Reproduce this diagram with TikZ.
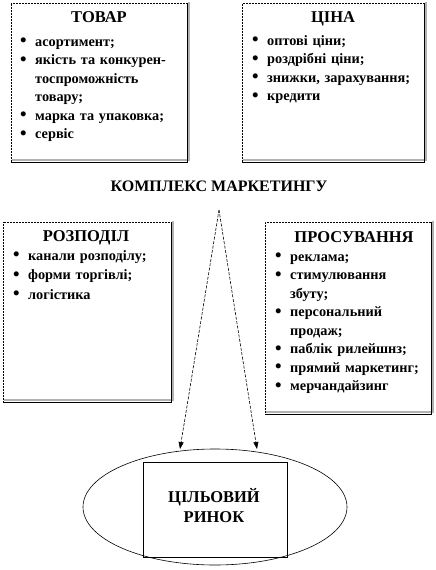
\documentclass[tikz,border=0pt]{standalone}
\usepackage{fontspec}
\usepackage{graphicx}
\setmainfont{Liberation Serif}
\usetikzlibrary{arrows.meta,shapes.geometric}
\newcommand{\itm}[1]{\hangindent=15pt\hangafter=1\noindent\makebox[15pt][l]{\raisebox{-0.6pt}{\scalebox{1.3}{\textbullet}}}#1\par}
\tikzset{
  boxst/.style={draw=black,densely dotted,line width=0.5pt,fill=white,inner sep=0pt,outer sep=0pt,anchor=north west},
  shadowst/.style={draw=gray!60,line width=1.2pt},
  solidedge/.style={draw=black,line width=1pt},
  titlest/.style={font=\fontsize{16.5}{18}\selectfont\bfseries,anchor=base,inner sep=0pt},
  listst/.style={font=\fontsize{14.3}{18.5}\selectfont\bfseries,anchor=base west,inner sep=0pt,text width=170pt,align=left},
  arrowst/.style={draw=black,line width=0.6pt,dash pattern=on 3pt off 1.5pt,-{Triangle[width=5pt,length=7pt]}},
}
\begin{document}
\begin{tikzpicture}[x=1pt,y=-1pt]
\useasboundingbox (0,0) rectangle (436,570);
% --- ТОВАР
\node[boxst,minimum width=176pt,minimum height=159pt] (tovar) at (11,3) {};
\draw[shadowst] ([shift={(2,-1)}]tovar.north east) -- ([shift={(2,-2)}]tovar.south east) -- ([shift={(1,-2)}]tovar.south west);
\draw[solidedge] (tovar.north east) -- (tovar.south east) -- (tovar.south west);
\node[titlest] (tovart) at (99,23) {ТОВАР};
\node[listst] (tovarl) at (20,46) {\itm{асортимент;}\itm{якість та конкурен-\newline тоспроможність\newline товару;}\itm{марка та упаковка;}\itm{сервіс}};
% --- ЦІНА
\node[boxst,minimum width=182pt,minimum height=159pt] (tsina) at (242,3) {};
\draw[shadowst] ([shift={(2,-1)}]tsina.north east) -- ([shift={(2,-2)}]tsina.south east) -- ([shift={(1,-2)}]tsina.south west);
\draw[solidedge] (tsina.north east) -- (tsina.south east) -- (tsina.south west);
\node[titlest] (tsinat) at (333,23) {ЦІНА};
\node[listst] (tsinal) at (252,45) {\itm{оптові ціни;}\itm{роздрібні ціни;}\itm{знижки, зарахування;}\itm{кредити}};
% --- КОМПЛЕКС
\node[titlest,font=\fontsize{16}{18}\selectfont\bfseries] (kompl) at (219,191) {КОМПЛЕКС МАРКЕТИНГУ};
% --- РОЗПОДІЛ
\node[boxst,minimum width=168pt,minimum height=180pt] (rozp) at (3,222) {};
\draw[shadowst] ([shift={(2,-1)}]rozp.north east) -- ([shift={(2,-2)}]rozp.south east) -- ([shift={(1,-2)}]rozp.south west);
\draw[solidedge] (rozp.north east) -- (rozp.south east) -- (rozp.south west);
\node[titlest] (rozpt) at (86,241) {РОЗПОДІЛ};
\node[listst,font=\fontsize{14.3}{19.5}\selectfont\bfseries] (rozpl) at (13,260) {\itm{канали розподілу;}\itm{форми торгівлі;}\itm{логістика}};
% --- ПРОСУВАННЯ
\node[boxst,minimum width=166pt,minimum height=192pt] (pros) at (265,222) {};
\draw[shadowst] ([shift={(2,-1)}]pros.north east) -- ([shift={(2,-2)}]pros.south east) -- ([shift={(1,-2)}]pros.south west);
\draw[solidedge] (pros.north east) -- (pros.south east) -- (pros.south west);
\node[titlest] (prost) at (354,242) {ПРОСУВАННЯ};
\node[listst,text width=160pt] (prosl) at (275,261) {\itm{реклама;}\itm{стимулювання\newline збуту;}\itm{персональний\newline продаж;}\itm{паблік рилейшнз;}\itm{прямий маркетинг;}\itm{мерчандайзинг}};
% --- ЦІЛЬОВИЙ РИНОК
\node[ellipse,draw=black,line width=0.6pt,minimum width=264pt,minimum height=116pt,inner sep=0pt] (ell) at (215,507) {};
\node[draw=black,line width=0.8pt,minimum width=144pt,minimum height=95pt,inner sep=0pt] (rynok) at (215,509.5) {};
\node[titlest] (rynok1) at (214,502) {ЦІЛЬОВИЙ};
\node[titlest] (rynok2) at (214,522) {РИНОК};
% --- arrows
\coordinate (apex) at (219,210);
\coordinate (tipL) at (180,449);
\coordinate (tipR) at (257,449);
\draw[arrowst] (apex) -- (tipL);
\draw[arrowst] (apex) -- (tipR);
\end{tikzpicture}
\end{document}
